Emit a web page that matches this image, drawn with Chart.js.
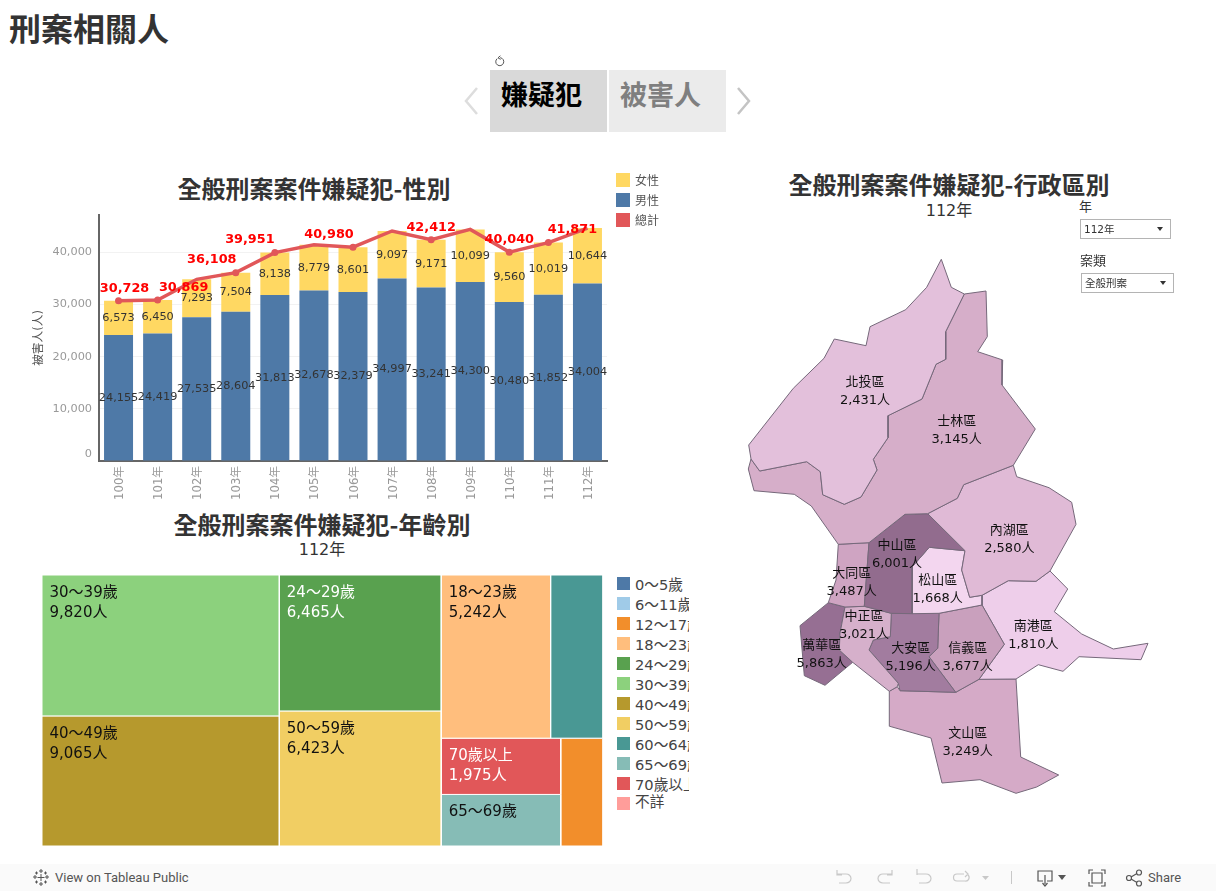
<!DOCTYPE html>
<html lang="zh-Hant">
<head>
  <meta charset="UTF-8">
  <title>刑案相關人</title>
  <script src="https://cdn.jsdelivr.net/npm/chart.js"></script>
  <style>
    html, body { margin: 0; padding: 0; background: #fff; width: 1216px; height: 891px; overflow: hidden; }
    body { font-family: "DejaVu Sans", "Noto Sans CJK TC", sans-serif; color: #333; position: relative; }
    canvas { position: absolute; display: block; }
    .abs { position: absolute; white-space: nowrap; }
    .cjk { font-family: "Noto Sans CJK TC", sans-serif; }
    .title { font-family: "Noto Sans CJK TC", sans-serif; font-weight: 700; font-size: 24px; line-height: 30px; color: #333; transform: translateX(-50%); }
    .sub { font-size: 16px; line-height: 20px; color: #333; transform: translateX(-50%); }
    .tab { top: 70px; width: 117px; height: 62px; font-family: "Noto Sans CJK TC", sans-serif; font-weight: 700; font-size: 27px; line-height: 48px; text-indent: 11px; }
    .swatch { position: absolute; }
    .legend-text { position: absolute; white-space: nowrap; }
    .select { height: 18px; border: 1px solid #b4b4b4; font-size: 10.5px; line-height: 18px; color: #333; text-indent: 3px; box-sizing: content-box; }
    .select i { position: absolute; right: 7px; top: 7px; border-left: 3.5px solid transparent; border-right: 3.5px solid transparent; border-top: 4px solid #333; }
    #footer { position: absolute; left: 0; top: 864px; width: 1216px; height: 27px; background: #fafafa; }
    #footer span { position: absolute; font-family: Roboto, "Liberation Sans", sans-serif; font-size: 13px; line-height: 27px; color: #555; }
    #footer svg { position: absolute; top: 0; }
  </style>
</head>
<body>
  <div class="abs cjk" style="left:9px;top:4px;font-size:32px;font-weight:700;line-height:46px;color:#333">刑案相關人</div>

  <!-- Story tabs -->
  <svg class="abs" style="left:493px;top:55px" width="14" height="14" viewBox="0 0 14 14" fill="none" stroke="#555" stroke-width="1"><path d="M4.2 3.6a4 4 0 1 0 3-0.9"/><path d="M7.4 0.8 L5 2.8 L7.6 4.4"/></svg>
  <div class="abs tab" style="left:490px;background:#d9d9d9;color:#000">嫌疑犯</div>
  <div class="abs tab" style="left:609px;background:#ebebeb;color:#7f7f7f">被害人</div>
  <svg class="abs" style="left:462px;top:86px" width="20" height="30" fill="none" stroke="#ddd" stroke-width="2.5"><path d="M15 2 L4 15 L15 28"/></svg>
  <svg class="abs" style="left:734px;top:86px" width="20" height="30" fill="none" stroke="#c4c4c4" stroke-width="2.5"><path d="M4 2 L15 15 L4 28"/></svg>

  <!-- Titles -->
  <div class="abs title" style="left:314px;top:173px">全般刑案案件嫌疑犯-性別</div>
  <div class="abs title" style="left:322px;top:509px">全般刑案案件嫌疑犯-年齡別</div>
  <div class="abs sub" style="left:322px;top:540px">112年</div>
  <div class="abs title" style="left:949px;top:169px">全般刑案案件嫌疑犯-行政區別</div>
  <div class="abs sub" style="left:949px;top:201px">112年</div>

  <canvas id="barChart" width="600" height="304" style="left:20px;top:201px"></canvas>
  <canvas id="treeChart" width="561" height="271" style="left:42px;top:575px"></canvas>
  <canvas id="mapChart" width="420" height="560" style="left:740px;top:250px"></canvas>

  <div id="sexLegend"></div>
  <div id="ageLegend" style="position:absolute;left:610px;top:570px;width:78.5px;height:250px;overflow:hidden"></div>

  <!-- Filters -->
  <div class="abs cjk" style="left:1079px;top:197px;font-size:13px;line-height:18px;color:#333">年</div>
  <div class="abs select" style="left:1080px;top:219px;width:89px">112年<i></i></div>
  <div class="abs cjk" style="left:1080px;top:251px;font-size:13px;line-height:18px;color:#333">案類</div>
  <div class="abs select" style="left:1081px;top:273px;width:91px">全般刑案<i></i></div>

  <!-- Tableau toolbar -->
  <div id="footer">
    <svg style="left:32px" width="18" height="27" fill="none" stroke="#555" stroke-width="1"><path d="M9 5v4M7 7h4M9 18v4M7 20h4M3 11v4M1 13h4M15 11v4M13 13h4M9 10v7M5.5 13.5h7M4.5 7.5v3M3 9h3M13.5 7.500v3M12 9h3M4.5 16.500v3M3 18h3M13.5 16.500v3M12 18h3"/></svg>
    <span style="left:55px">View on Tableau Public</span>
    <svg style="left:830px" width="175" height="27" fill="none" stroke="#c8c8c8" stroke-width="1.2">
      <path d="M7 6v5h5M7 10h9a5 4.500 0 0 1 0 9h-7"/>
      <path d="M62 6v5h-5M62 10h-9a5 4.500 0 0 0 0 9h7"/>
      <path d="M87 5v6M87 10h9a5 4.500 0 0 1 0 9h-7"/>
      <path d="M134 10h-7a3.500 3.500 0 0 0 0 7h8a3.500 3.500 0 0 0 3-6M135 7l3 3-3 3"/>
      <path d="M152 12h7l-3.500 4z" fill="#c8c8c8" stroke="none"/>
    </svg>
    <div style="position:absolute;left:1011px;top:7px;width:1px;height:13px;background:#c8c8c8"></div>
    <svg style="left:1036px" width="180" height="27" fill="none" stroke="#555" stroke-width="1.2">
      <path d="M7 17H2V7h14v10h-5M9 11v9M6.500 19l2.500 3 2.500-3"/>
      <path d="M22 11h8l-4 5z" fill="#555" stroke="none"/>
      <path d="M53 10V6h4M65 6h4v4M69 18v4h-4M57 22h-4v-4M56 9h10v10H56z"/>
      <circle cx="93" cy="14" r="2.500"/><circle cx="103" cy="8.500" r="2.500"/><circle cx="103" cy="19.500" r="2.500"/><path d="M95 13l6-3.500M95 15l6 3.500"/>
    </svg>
    <span style="left:1148px">Share</span>
  </div>

  <script>
    // 性別 bar chart
    const years = ['100年','101年','102年','103年','104年','105年','106年','107年','108年','109年','110年','111年','112年'];
    const maleValues = [24155,24419,27535,28604,31813,32678,32379,34997,33241,34300,30480,31852,34004];
    const femaleValues = [6573,6450,7293,7504,8138,8779,8601,9097,9171,10099,9560,10019,10644];
    const totalValues = [30728,30869,34828,36108,39951,41457,40980,44094,42412,44399,40040,41871,44648];
    const yTicks = [0,10000,20000,30000,40000];

    // 年齡 treemap
    const ageNames = ['0～5歲','6～11歲','12～17歲','18～23歲','24～29歲','30～39歲','40～49歲','50～59歲','60～64歲','65～69歲','70歲以上','不詳'];
    const ageValues = [0,0,1338,5242,6465,9820,9065,6423,2510,1810,1975,0];
    const ageColors = ['#4e79a7','#a0cbe8','#f28e2b','#ffbe7d','#59a14f','#8cd17d','#b6992d','#f1ce63','#499894','#86bcb6','#e15759','#ff9d9a'];

    // 行政區 map, outlines in map grid units
    const districtNames = ['北投區','士林區','內湖區','中山區','松山區','大同區','中正區','萬華區','大安區','信義區','南港區','文山區'];
    const districtValues = [2431,3145,2580,6001,1668,3487,3021,5863,5196,3677,1810,3249];
    const districtColors = ['#e3c0db','#d6aec9','#e0bad6','#926c8e','#f3d6ef','#cfa4c2','#d6b0cb','#966f93','#a27c9f','#c9a0bd','#eeceea','#d5aac7'];
    const beitou = [[201.3,9.3],[211.3,37.3],[224.3,44],[205.7,81.7],[205.7,109.3],[196,114.3],[182,149],[148,165.7],[148,187.7],[133.3,209.3],[137,220],[121,247],[104.3,254.3],[82.7,244.7],[80.3,221.7],[66.7,211.7],[19.7,221],[11,209],[8.7,195],[53.3,138.3],[84,108.3],[94.3,89],[126,95.7],[130,76.7],[165.7,59.7],[186.7,37.3]];
    const shilin = [[224.3,44],[246,41],[247.3,86.7],[237.7,101.7],[262.7,110],[262,135],[295.3,179],[273.3,215.3],[223.7,234.7],[217.3,248.3],[187.7,263.7],[165,264.3],[129,292.7],[98.3,294.3],[71.3,256],[54.3,244.3],[14,240.7],[8.3,219],[11,209],[19.7,221],[66.7,211.7],[80.3,221.7],[82.7,244.7],[104.3,254.3],[121,247],[137,220],[133.3,209.3],[148,187.7],[148,165.7],[182,149],[196,114.3],[205.7,109.3],[205.7,81.7]];
    const neihu = [[273.3,215.3],[276.7,226.7],[309,237.7],[331.7,252.3],[336,274.3],[310,321],[296,331.3],[268.3,330.7],[242,345.3],[229.7,347.3],[221.7,320],[225,300.7],[187.7,263.7],[217.3,248.3],[223.7,234.7]];
    const zhongshan = [[165,264.3],[187.7,263.7],[225,300.7],[189.3,297.3],[172.3,316.7],[172,363.7],[151.3,363.3],[124.3,356.3],[129,292.7]];
    const songshan = [[189.3,297.3],[225,300.7],[221.7,320],[229.7,347.3],[242,345.3],[242,355],[199,363.3],[172,363.7],[172.3,316.7]];
    const datong = [[98.3,294.3],[129,292.7],[124.3,356.3],[105,357],[88.3,352.7],[96,330]];
    const zhongzheng = [[105,357],[124.3,356.3],[151.3,363.3],[150.3,386.7],[133.3,390],[129,400],[158.3,433.3],[157.3,436.7],[149.3,441.3],[112.7,412.3],[99.3,400],[100,383.3]];
    const wanhua = [[88.3,352.7],[105,357],[100,383.3],[99.3,400],[112.7,412.3],[85,435.3],[64.3,425.7],[60,375.7]];
    const daan = [[151.3,363.3],[199,363.3],[197.7,398.3],[189,406.7],[215.7,442.3],[160,440.7],[158.3,433.3],[129,400],[133.3,390],[150.3,386.7]];
    const xinyi = [[199,363.3],[242,355],[264.3,394.3],[239,429.3],[215.7,442.3],[189,406.7],[197.7,398.3]];
    const nangang = [[242,355],[242,345.3],[268.3,330.7],[296,331.3],[310,321],[327.7,339],[314.3,361.7],[341.7,384],[373.3,399],[408,393.3],[401,409.7],[339,406.7],[323,421.3],[298.3,414.7],[276,429],[239,429.3],[264.3,394.3]];
    const wenshan = [[149.3,441.3],[157.3,436.7],[160,440.7],[215.7,442.3],[239,429.3],[276,429],[280.7,507],[318.7,525],[296.7,537],[276,543.3],[240,529.7],[202,533],[191,488],[149.7,476.3]];
    const districtShapes = [beitou,shilin,neihu,zhongshan,songshan,datong,zhongzheng,wanhua,daan,xinyi,nangang,wenshan];
    const districtLabelAt = [[125,141],[216.7,180],[269.3,289],[157,304],[197.7,339],[111.7,332],[124,374.5],[81.7,404],[170.7,407],[227.7,406.5],[293.3,385],[227.7,492]];

    Chart.defaults.animation = false;
    Chart.defaults.responsive = false;
    Chart.defaults.font.family = '"DejaVu Sans", "Noto Sans CJK TC", sans-serif';
    Chart.defaults.plugins.legend.display = false;
    Chart.defaults.plugins.tooltip.enabled = false;

    const fmt = n => n.toLocaleString('en-US');

    // which totals carry a label, and how far the label sits from its point
    const totalLabelShift = { 0: 6, 1: 26, 3: -24, 4: -25, 6: -24, 8: 0, 10: 0, 11: 24 };

    const barLabels = {
      id: 'barLabels',
      beforeDraw(chart) {
        // Tableau nudges the zero label up off the axis
        chart.scales.y.getLabelItems().forEach(item => {
          if (item.label === '0') item.options.translation[1] -= 7;
        });
      },
      afterDatasetsDraw(chart) {
        const ctx = chart.ctx;
        ctx.save();
        ctx.textAlign = 'center';
        ctx.textBaseline = 'middle';
        ctx.font = '11.3px "DejaVu Sans", "Noto Sans CJK TC", sans-serif';
        ctx.fillStyle = '#333';
        [0, 1].forEach(i => {
          chart.getDatasetMeta(i).data.forEach((bar, j) => {
            ctx.fillText(fmt(chart.data.datasets[i].data[j]), bar.x, (bar.y + bar.base) / 2);
          });
        });
        ctx.font = 'bold 12.8px "DejaVu Sans", sans-serif';
        ctx.fillStyle = '#ff0000';
        chart.getDatasetMeta(2).data.forEach((pt, j) => {
          if (totalLabelShift[j] !== undefined) ctx.fillText(fmt(totalValues[j]), pt.x + totalLabelShift[j], pt.y - 12.5);
        });
        ctx.restore();
      }
    };

    new Chart(document.getElementById('barChart'), {
      data: {
        labels: years,
        datasets: [
          { type: 'bar', label: '男性', data: maleValues, backgroundColor: '#4e79a7', order: 2, barPercentage: 0.742, categoryPercentage: 1 },
          { type: 'bar', label: '女性', data: femaleValues, backgroundColor: '#ffd862', order: 2, barPercentage: 0.742, categoryPercentage: 1 },
          { type: 'line', label: '總計', data: totalValues, borderColor: '#e15759', backgroundColor: '#e15759', borderWidth: 3.5, order: 1,
            pointRadius: years.map((y, i) => totalLabelShift[i] !== undefined ? 3.5 : 0), pointBorderWidth: 0, tension: 0 }
        ]
      },
      options: {
        layout: { padding: { top: 6, right: 13 } },
        scales: {
          x: {
            stacked: true,
            grid: { display: false, drawTicks: false },
            border: { color: '#666', width: 2 },
            afterFit(scale) { scale.height = 44; },
            ticks: { minRotation: 90, maxRotation: 90, color: '#999', font: { size: 11.7 }, padding: 5, labelOffset: 1.5 }
          },
          y: {
            stacked: true,
            min: 0,
            max: 47200,
            afterFit(scale) { scale.width = 79; },
            afterBuildTicks(scale) { scale.ticks = yTicks.map(value => ({ value })); },
            border: { color: '#666', width: 2 },
            grid: { color: '#f2f2f2', drawTicks: false },
            ticks: { color: '#999', font: { size: 11.3 }, padding: 7, callback: v => fmt(v) },
            title: { display: true, text: '被害人(人)', color: '#555', font: { size: 11.7 }, padding: { top: 12, bottom: 0 } }
          }
        }
      },
      plugins: [barLabels]
    });

    // closed outline for a filled line dataset
    const outline = pts => pts.concat([pts[0]]).map(p => ({ x: p[0], y: p[1] }));

    // treemap nesting as Tableau laid it out: h = side by side, v = stacked
    const treeLayout = { dir: 'h', kids: [
      { dir: 'v', kids: ['30～39歲', '40～49歲'] },
      { dir: 'v', kids: ['24～29歲', '50～59歲'] },
      { dir: 'v', kids: [
        { dir: 'h', kids: ['18～23歲', '60～64歲'] },
        { dir: 'h', kids: [{ dir: 'v', kids: ['70歲以上', '65～69歲'] }, '12～17歲'] }
      ] }
    ] };
    const nodeTotal = n => typeof n === 'string' ? ageValues[ageNames.indexOf(n)] : n.kids.reduce((s, k) => s + nodeTotal(k), 0);
    const treeCells = [];
    function placeNode(node, x0, y0, x1, y1) {
      if (typeof node === 'string') { treeCells.push({ name: node, x0, y0, x1, y1 }); return; }
      const sum = nodeTotal(node);
      let at = node.dir === 'h' ? x0 : y0;
      node.kids.forEach(kid => {
        const step = nodeTotal(kid) / sum * (node.dir === 'h' ? x1 - x0 : y1 - y0);
        if (node.dir === 'h') placeNode(kid, at, y0, at + step, y1);
        else placeNode(kid, x0, at, x1, at + step);
        at += step;
      });
    }
    placeNode(treeLayout, 0, 0, 1, 1);

    const noValueLabel = ['65～69歲'];
    const noLabel = ['60～64歲', '12～17歲'];
    const whiteLabel = ['24～29歲', '70歲以上'];

    const treeLabels = {
      id: 'treeLabels',
      afterDatasetsDraw(chart) {
        const { ctx, scales } = chart;
        ctx.save();
        ctx.font = '15px "DejaVu Sans", "Noto Sans CJK TC", sans-serif';
        ctx.textBaseline = 'middle';
        treeCells.forEach(c => {
          if (noLabel.includes(c.name)) return;
          const left = scales.x.getPixelForValue(c.x0) + 7.5;
          const top = scales.y.getPixelForValue(c.y0);
          ctx.fillStyle = whiteLabel.includes(c.name) ? '#fff' : '#111';
          ctx.fillText(c.name, left, top + 18);
          if (!noValueLabel.includes(c.name)) ctx.fillText(fmt(ageValues[ageNames.indexOf(c.name)]) + '人', left, top + 38);
        });
        ctx.restore();
      }
    };

    new Chart(document.getElementById('treeChart'), {
      type: 'scatter',
      data: {
        datasets: treeCells.map(c => ({
          label: c.name,
          data: outline([[c.x0, c.y0], [c.x1, c.y0], [c.x1, c.y1], [c.x0, c.y1]]),
          showLine: true,
          fill: 'shape',
          tension: 0,
          pointRadius: 0,
          borderWidth: 1,
          borderColor: '#fff',
          backgroundColor: ageColors[ageNames.indexOf(c.name)]
        }))
      },
      options: {
        scales: {
          x: { display: false, min: 0, max: 1 },
          y: { display: false, min: 0, max: 1, reverse: true }
        }
      },
      plugins: [treeLabels]
    });

    const mapLabels = {
      id: 'mapLabels',
      afterDatasetsDraw(chart) {
        const { ctx, scales } = chart;
        ctx.save();
        ctx.font = '13px "DejaVu Sans", "Noto Sans CJK TC", sans-serif';
        ctx.textAlign = 'center';
        ctx.textBaseline = 'middle';
        ctx.fillStyle = '#111';
        districtNames.forEach((name, i) => {
          const x = scales.x.getPixelForValue(districtLabelAt[i][0]);
          const y = scales.y.getPixelForValue(districtLabelAt[i][1]);
          ctx.fillText(name, x, y - 8);
          ctx.fillText(fmt(districtValues[i]) + '人', x, y + 10);
        });
        ctx.restore();
      }
    };

    new Chart(document.getElementById('mapChart'), {
      type: 'scatter',
      data: {
        datasets: districtShapes.map((shape, i) => ({
          label: districtNames[i],
          data: outline(shape),
          showLine: true,
          fill: 'shape',
          tension: 0,
          pointRadius: 0,
          borderWidth: 1,
          borderColor: '#75687a',
          backgroundColor: districtColors[i]
        }))
      },
      options: {
        scales: {
          x: { display: false, min: 0, max: 420 },
          y: { display: false, min: 0, max: 560, reverse: true }
        }
      },
      plugins: [mapLabels]
    });

    // Legends
    const sexItems = [['女性', '#ffd862'], ['男性', '#4e79a7'], ['總計', '#e15759']];
    document.getElementById('sexLegend').innerHTML = sexItems.map((it, i) => `
      <div class="swatch" style="left:616px;top:${173 + i * 20}px;width:14px;height:14px;background:${it[1]}"></div>
      <div class="legend-text cjk" style="left:635px;top:${171 + i * 20}px;font-size:12px;line-height:18px;color:#555">${it[0]}</div>
    `).join('');
    document.getElementById('ageLegend').innerHTML = ageNames.map((name, i) => `
      <div class="swatch" style="left:7px;top:${7 + i * 20}px;width:13px;height:13px;background:${ageColors[i]}"></div>
      <div class="legend-text" style="left:25px;top:${(i === 11 ? 2 : 5) + i * 20}px;font-size:14.67px;line-height:20px;color:#444">${name}</div>
    `).join('');
  </script>
</body>
</html>
